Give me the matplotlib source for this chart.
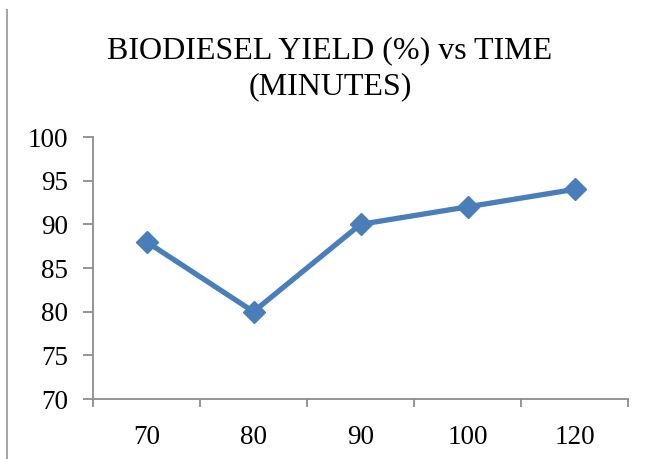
import numpy as np
import matplotlib.pyplot as plt
from matplotlib.lines import Line2D

# data
times = ['70', '80', '90', '100', '120']
yield_pct = [88, 80, 90, 92, 94]
yticks = [70, 75, 80, 85, 90, 95, 100]

plt.rcParams['font.family'] = 'Liberation Serif'

fig = plt.figure(figsize=(6.53, 4.59), dpi=100)
ax = fig.add_axes([93/653, 1 - 399/459, (628 - 93)/653, (399 - 137)/459])

x = np.arange(len(times))
ax.plot(x, yield_pct, color='#4A7EBB', lw=3.8, marker='D', ms=11,
        mec='#4A7EBB', mfc='#4A7EBB', solid_joinstyle='miter')

ax.set_xlim(-0.5, len(times) - 0.5)
ax.set_ylim(70, 100)
ax.set_yticks(yticks)
ax.set_xticks(x)
ax.set_xticklabels(times)
ax.set_xticks(np.arange(-0.5, len(times)), minor=True)

for s in ['top', 'right']:
    ax.spines[s].set_visible(False)
for s in ['left', 'bottom']:
    ax.spines[s].set_color('#8C8C8C')
    ax.spines[s].set_linewidth(1.3)

ax.tick_params(axis='x', which='major', length=0, pad=19, labelsize=19.5)
ax.tick_params(axis='x', which='minor', length=6, width=1.3, color='#8C8C8C', direction='out')
ax.tick_params(axis='y', length=7, width=1.3, color='#8C8C8C', pad=11, labelsize=19.5)

fig.text(330/653, 1 - 69/459, 'BIODIESEL YIELD (%) vs TIME\n(MINUTES)',
         ha='center', va='center', multialignment='center', fontsize=23, linespacing=1.33)

# thin border line on the left of the picture
fig.add_artist(Line2D([7/653, 7/653], [0, 1 - 10/459], transform=fig.transFigure,
                      color='#A6A6A6', lw=1.5))

fig.savefig('out.png', dpi=100)
